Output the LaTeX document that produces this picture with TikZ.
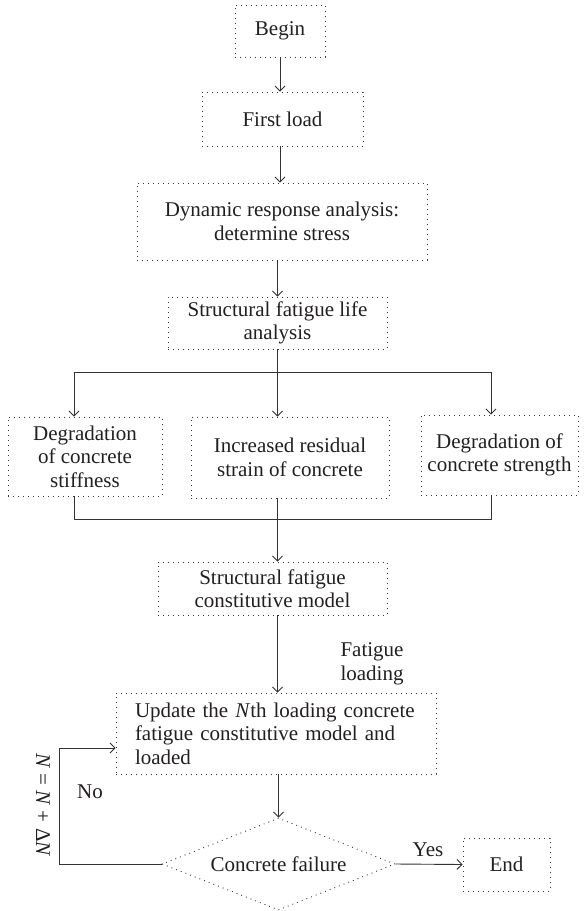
\documentclass[tikz,border=0pt]{standalone}
\usepackage{fontspec}
\setmainfont{Liberation Serif}
\usetikzlibrary{arrows.meta,shapes.geometric}
\definecolor{ink}{HTML}{231F20}
\definecolor{wire}{HTML}{333333}
\begin{document}
\begin{tikzpicture}[x=1pt,y=-1pt,
  font=\fontsize{21}{23.5}\selectfont, text=ink,
  box/.style={draw=wire, line width=0.9pt, dash pattern=on 0.9pt off 4.1pt, rectangle, inner sep=0pt, align=center},
  dia/.style={box, diamond, aspect=2.5},
  arr/.style={draw=wire, line width=0.9pt, -{Straight Barb[length=5pt,width=10pt]}},
  ln/.style={draw=wire, line width=0.9pt},
  lbl/.style={inner sep=0pt, align=center}]
\useasboundingbox (0,0) rectangle (587,911);

\node[box, minimum width=90pt, minimum height=52pt] (begin) at (280,31) {Begin};
\node[box, minimum width=161pt, minimum height=54pt] (first) at (282.5,119) {First load};
\node[box, minimum width=290pt, minimum height=77pt] (dyn) at (282,221.5) {Dynamic response analysis:\\ determine stress};
\node[box, minimum width=219pt, minimum height=52pt] (life) at (277.5,323) {Structural fatigue life\\ analysis};
\node[box, minimum width=154pt, minimum height=79pt] (left) at (85,456.5) {Degradation\\ of concrete\\ stiffness};
\node[box, minimum width=198pt, minimum height=81pt] (mid) at (290,457.5) {Increased residual\\ strain of concrete};
\node[box, minimum width=157pt, minimum height=80pt] (right) at (499.5,455) {Degradation of\\ concrete strength};
\node[box, minimum width=229pt, minimum height=53pt] (const) at (272.5,588.5) {Structural fatigue\\ constitutive model};
\node[box, minimum height=81pt, inner xsep=19pt, text width=282pt, align=left] (update) at (276,733.5) {Update the \textit{N}th loading concrete\\ fatigue constitutive model and\\ loaded};
\node[dia, minimum width=233pt, minimum height=92pt] (dia) at (278.5,864) {Concrete failure};
\node[box, minimum width=87pt, minimum height=53pt] (end) at (506.5,864.5) {End};

\node[lbl] (fat) at (372,664) {Fatigue\\ loading};
\node[lbl] (no) at (90,792) {No};
\node[lbl] (yes) at (428,850) {Yes};
\node[lbl, rotate=-90] (eq) at (43,805) {\textit{N} = \textit{N} + Δ\textit{N}};

\coordinate (split) at (277.5,372);
\coordinate (bl) at (74,372);
\coordinate (br) at (491,372);
\coordinate (ml) at (74,519);
\coordinate (mr) at (491,519);
\coordinate (lp) at (59,748);

\draw[arr] (begin.south) -- (begin.south |- first.north);
\draw[arr] (first.south -| begin.south) -- (begin.south |- dyn.north);
\draw[arr] (life.north |- dyn.south) -- (life.north);
\draw[ln] (life.south) -- (split);
\draw[ln] (bl) -- (br);
\draw[arr] (bl) -- (bl |- left.north);
\draw[arr] (split) -- (split |- mid.north);
\draw[arr] (br) -- (br |- right.north);
\draw[ln] (ml |- left.south) -- (ml) -- (mr) -- (mr |- right.south);
\draw[arr] (life.south |- mid.south) -- (life.south |- const.north);
\draw[arr] (life.south |- const.south) -- (life.south |- update.north);
\draw[arr] (dia.north |- update.south) -- (dia.north);
\draw[arr] (dia.west) -| (lp) -- (lp -| update.west);
\draw[arr] (dia.east) -- (end.west);
\end{tikzpicture}
\end{document}
